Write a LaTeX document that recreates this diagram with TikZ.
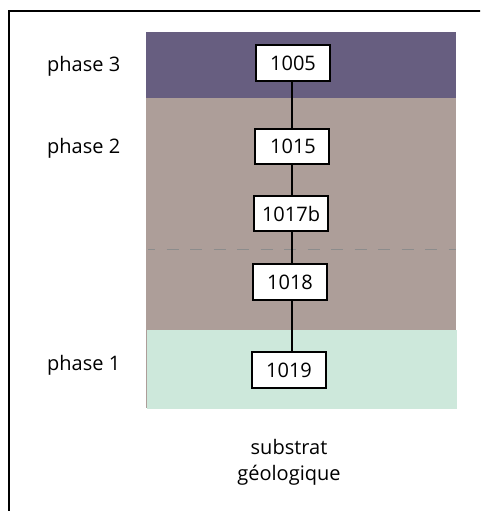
\documentclass[tikz,border=0pt]{standalone}
\usepackage{fontspec}
\setmainfont{Open Sans}
\definecolor{phthree}{RGB}{103,94,128}
\definecolor{phtwo}{RGB}{173,158,153}
\definecolor{phone}{RGB}{205,232,219}
\definecolor{dashgray}{RGB}{140,140,140}
\begin{document}
\begin{tikzpicture}[x=1pt,y=-1pt,
  txt/.style={font=\fontsize{20}{26}\selectfont, inner sep=0pt},
  unit/.style={draw=black, line width=2pt, fill=white, minimum width=74pt, minimum height=35.5pt, inner sep=0pt, font=\fontsize{20}{26}\selectfont},
  link/.style={draw=black, line width=1.6pt}]
\useasboundingbox (0,0) rectangle (480,511);
\clip (0,0) rectangle (480,511);
% frame
\draw[line width=2pt] (9,520) -- (9,11.5) -- (490,11.5);
% phase bands
\fill[phtwo] (146,98) rectangle (455.5,408);
\fill[phthree] (146,32) rectangle (455.5,98);
\fill[phone] (147,330) rectangle (457,409);
\draw[dashgray, line width=1.8pt, dash pattern=on 12pt off 11.5pt, dash phase=5pt] (148,249.5) -- (456,249.5);
% units
\coordinate (axis) at (292,0);
\node[unit] (u1005) at (293,63) {1005\hspace{14pt}};
\node[unit] (u1015) at (292,146.5) {\hspace{2pt}1015};
\node[unit] (u1017b) at (291,213.5) {1017b};
\node[unit] (u1018) at (290,282) {1018};
\node[unit] (u1019) at (289,370) {1019};
\draw[link] (u1005.south -| axis) -- (u1015.north -| axis);
\draw[link] (u1015.south -| axis) -- (u1017b.north -| axis);
\draw[link] (u1017b.south -| axis) -- (u1018.north -| axis);
\draw[link] (u1018.south -| axis) -- (u1019.north -| axis);
% labels
\node[txt, anchor=base west] (p3) at (47,71.5) {phase 3};
\node[txt, anchor=base west] (p2) at (47,153.5) {phase 2};
\node[txt, anchor=base west] (p1) at (47,370.5) {phase 1};
\node[txt, anchor=base] (sub1) at (289,454) {substrat};
\node[txt, anchor=base] (sub2) at (289,480) {géologique};
\end{tikzpicture}
\end{document}
